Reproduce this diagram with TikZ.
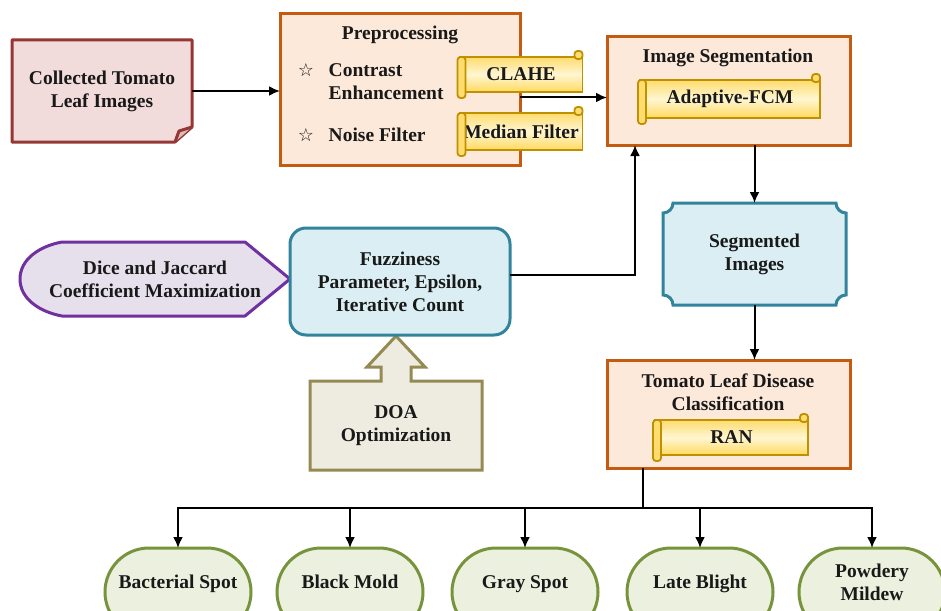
\documentclass[tikz,border=0pt]{standalone}
\usepackage{fontspec}
\setmainfont{Liberation Serif}
\newfontfamily\symfont{DejaVu Sans}
\usetikzlibrary{arrows.meta,calc,backgrounds,positioning}

\definecolor{inpfill}{HTML}{F2DCDB}
\definecolor{inpline}{HTML}{953735}
\definecolor{peachfill}{HTML}{FDE9D9}
\definecolor{peachline}{HTML}{C55A11}
\definecolor{bluefill}{HTML}{DAEEF3}
\definecolor{blueline}{HTML}{31849B}
\definecolor{purfill}{HTML}{E5E0EC}
\definecolor{purline}{HTML}{7030A0}
\definecolor{tanfill}{HTML}{EEECE1}
\definecolor{tanline}{HTML}{948A54}
\definecolor{leaffill}{HTML}{EBF1DE}
\definecolor{leafline}{HTML}{77933C}
\definecolor{scrolltop}{HTML}{FFDC6E}
\definecolor{scrollmid}{HTML}{FFF6D2}
\definecolor{scrollbot}{HTML}{FFD95E}
\definecolor{scrollline}{HTML}{BF9000}

\tikzset{
  every node/.style={font=\bfseries\fontsize{9.75}{11.5}\selectfont, align=center, text=black!90, outer sep=0pt},
  plain/.style={draw=none, inner sep=0pt},
  blockbox/.style={draw=peachline, fill=peachfill, line width=1.5pt, inner sep=0pt},
  scrollbox/.style={draw=scrollline, line width=0.9pt, top color=scrolltop, bottom color=scrollbot, middle color=scrollmid, inner sep=0pt},
  scrollroll/.style={draw=scrollline, line width=0.9pt, fill=scrolltop, rounded corners=1.5pt},
  leaf/.style={draw=leafline, fill=leaffill, line width=1.5pt, rounded corners=22pt, minimum width=73pt, minimum height=44pt, text depth=10pt},
  staricon/.style={font=\symfont\fontsize{9}{10}\selectfont},
}

\newcommand{\scrollends}[1]{%
  \draw[scrollroll] ([xshift=-1pt]#1.north west) rectangle ([xshift=3pt,yshift=-3pt]#1.south west);
  \draw[scrollroll] ([xshift=-4pt,yshift=3pt]#1.north east) rectangle ([yshift=-1pt]#1.north east);
}

\begin{document}
\begin{tikzpicture}[x=0.5pt,y=0.5pt,>={Latex[length=5.5pt,width=5pt]},line width=1pt]
  \clip (0,0) rectangle (941,-610);
  % input images
  \node[plain, minimum width=90pt, minimum height=51pt] (inp) at (102,-91) {Collected Tomato\\Leaf Images};
  % preprocessing
  \node[blockbox, minimum width=120pt, minimum height=75.5pt] (pre) at (400,-89.5) {};
  \node (pretitle) at (400,-35) {Preprocessing};
  \node[staricon] (star1) at (306,-70) {☆};
  \node[anchor=west, align=left] (contrast) at (322,-81.5) {Contrast\\Enhancement};
  \node[staricon] (star2) at (306,-135) {☆};
  \node[anchor=west] (noise) at (322,-135) {Noise Filter};
  \node[scrollbox, minimum width=61.5pt, minimum height=17.5pt] (clahe) at (521,-74.5) {CLAHE};
  \node[scrollbox, minimum width=61.5pt, minimum height=18.5pt] (median) at (521,-131.5) {Median Filter};
  % segmentation
  \node[blockbox, minimum width=121.5pt, minimum height=54pt] (seg) at (728.5,-91) {};
  \node (segtitle) at (728,-58) {Image Segmentation};
  \node[scrollbox, minimum width=90pt, minimum height=19pt] (afcm) at (730,-99) {Adaptive-FCM};
  \node[plain, minimum width=91.5pt, minimum height=51pt] (segimg) at (754.5,-254) {Segmented\\Images};
  % classification
  \node[blockbox, minimum width=121.5pt, minimum height=54pt] (cls) at (728.5,-414) {};
  \node (clstitle) at (728,-392.5) {Tomato Leaf Disease\\Classification};
  \node[scrollbox, minimum width=76.5pt, minimum height=17.5pt] (ran) at (731.5,-437.5) {RAN};
  % parameters
  \node[draw=blueline, fill=bluefill, line width=1.5pt, rounded corners=8pt, minimum width=110pt, minimum height=53.5pt] (fuzz) at (400,-281.5) {Fuzziness\\Parameter, Epsilon,\\Iterative Count};
  \node[plain, minimum width=135pt, minimum height=37pt] (dice) at (155,-279) {Dice and Jaccard\\Coefficient Maximization};
  \node[plain, minimum width=86pt, minimum height=44.5pt] (doa) at (396,-425.5) {DOA\\Optimization};
  % diseases
  \node[leaf] (bact)   at (178,-592) {Bacterial Spot};
  \node[leaf] (mold)   at (350,-592) {Black Mold};
  \node[leaf] (gray)   at (525,-592) {Gray Spot};
  \node[leaf] (blight) at (700,-592) {Late Blight};
  \node[leaf] (mildew) at (872,-592) {Powdery\\Mildew};

  \scrollends{clahe}
  \scrollends{median}
  \scrollends{afcm}
  \scrollends{ran}

  \begin{scope}[on background layer]
    \draw[draw=inpline, fill=inpfill, line width=1.5pt, line join=round]
      (inp.north west) -- (inp.north east) -- ($(inp.south east)+(0,15)$)
      -- ($(inp.south east)+(-17,0)$) -- (inp.south west) -- cycle;
    \draw[draw=inpline, fill=inpfill!80!inpline, line width=1.5pt, line join=round]
      ($(inp.south east)+(-17,0)$) -- ($(inp.south east)+(-13,11)$) -- ($(inp.south east)+(0,15)$);
    \draw[draw=blueline, fill=bluefill, line width=1.5pt]
      ($(segimg.north west)+(10,0)$) -- ($(segimg.north east)+(-10,0)$)
      arc[start angle=180, end angle=270, radius=5pt] -- ($(segimg.south east)+(0,10)$)
      arc[start angle=90, end angle=180, radius=5pt] -- ($(segimg.south west)+(10,0)$)
      arc[start angle=0, end angle=90, radius=5pt] -- ($(segimg.north west)+(0,-10)$)
      arc[start angle=270, end angle=360, radius=5pt] -- cycle;
    \draw[draw=purline, fill=purfill, line width=1.5pt, line join=round]
      ($(dice.north west)+(42,0)$) -- ($(dice.north east)+(-45,0)$) -- (dice.east)
      -- ($(dice.south east)+(-45,0)$) -- ($(dice.south west)+(42,0)$)
      .. controls ($(dice.south west)+(20,4)$) and ($(dice.west)+(0,-20)$) .. (dice.west)
      .. controls ($(dice.west)+(0,20)$) and ($(dice.north west)+(20,-4)$) .. ($(dice.north west)+(42,0)$) -- cycle;
    \draw[draw=tanline, fill=tanfill, line width=1.5pt, line join=miter]
      (doa.north west) -- ($(doa.north)+(-15,0)$) -- ($(doa.north)+(-15,14)$)
      -- ($(doa.north)+(-29,14)$) -- ($(doa.north)+(0,45)$) -- ($(doa.north)+(29,14)$)
      -- ($(doa.north)+(15,14)$) -- ($(doa.north)+(15,0)$) -- (doa.north east)
      -- (doa.south east) -- (doa.south west) -- cycle;
  \end{scope}

  % connectors
  \draw[->] (inp.east) -- (inp.east -| pre.west);
  \draw[->] ([yshift=-4pt]pre.east) -- ([yshift=-4pt]pre.east -| seg.west);
  \draw[->] (seg.south -| segimg.north) -- (segimg.north);
  \draw[->] (segimg.south) -- (segimg.south |- cls.north);
  \draw[->] ([yshift=3.5pt]fuzz.east) -| ([xshift=14pt]seg.south west);
  \coordinate (split) at ($(cls.south west)+(36,-40)$);
  \draw ([xshift=18pt]cls.south west) -- (split);
  \foreach \leafname in {bact,mold,gray,blight,mildew}
    \draw[->] (split) -| (\leafname.north);
\end{tikzpicture}
\end{document}
